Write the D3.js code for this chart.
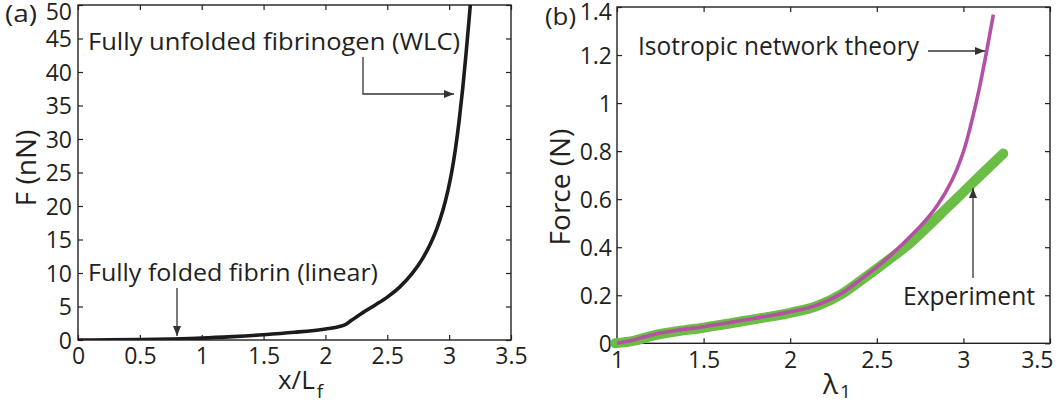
<!DOCTYPE html>
<html>
<head>
<meta charset="utf-8">
<script src="https://cdn.jsdelivr.net/npm/d3@7"></script>
<style>
  body { margin: 0; background: #fff; }
  svg text { font-family: "Open Sans", "Liberation Sans", sans-serif; fill: #231f20; }
</style>
</head>
<body>
<div id="chart"></div>
<script>
// panel (a) : single fibre force-extension
var xTicksA = [0, 0.5, 1, 1.5, 2, 2.5, 3, 3.5];
var yTicksA = [0, 5, 10, 15, 20, 25, 30, 35, 40, 45, 50];
var extA = [0, 0.25, 0.5, 0.75, 1.0, 1.25, 1.5, 1.75, 2.0, 2.1, 2.17, 2.2, 2.25, 2.3, 2.4, 2.5, 2.6, 2.7, 2.78, 2.85, 2.9, 2.95, 2.99, 3.02, 3.05, 3.08, 3.11, 3.135, 3.16, 3.172];
var forceA = [0, 0.02, 0.06, 0.15, 0.28, 0.5, 0.78, 1.15, 1.65, 1.95, 2.4, 2.8, 3.45, 4.05, 5.2, 6.4, 7.9, 9.9, 12.0, 14.4, 16.6, 19.4, 22.3, 25.0, 28.4, 32.6, 37.6, 42.4, 47.6, 50.2];

// panel (b) : network, theory vs experiment
var xTicksB = [1, 1.5, 2, 2.5, 3, 3.5];
var yTicksB = [0, 0.2, 0.4, 0.6, 0.8, 1, 1.2, 1.4];
var lamTheory = [1.0, 1.1, 1.2, 1.35, 1.5, 1.75, 2.0, 2.15, 2.3, 2.4, 2.5, 2.6, 2.7, 2.75, 2.8, 2.85, 2.9, 2.96, 3.01, 3.05, 3.09, 3.13, 3.173];
var forceTheory = [0, 0.015, 0.035, 0.054, 0.069, 0.099, 0.131, 0.158, 0.21, 0.262, 0.317, 0.38, 0.45, 0.486, 0.527, 0.575, 0.632, 0.72, 0.82, 0.93, 1.055, 1.2, 1.368];
var lamExp = [0.99, 1.1, 1.2, 1.35, 1.5, 1.75, 2.0, 2.15, 2.3, 2.4, 2.5, 2.6, 2.7, 2.8, 2.9, 3.0, 3.1, 3.23];
var forceExp = [0, 0.011, 0.031, 0.05, 0.065, 0.095, 0.127, 0.154, 0.206, 0.257, 0.31, 0.365, 0.422, 0.49, 0.56, 0.63, 0.7, 0.79];

var W = 1062, H = 406;
var ink = "#231f20";

var svg = d3.select("#chart").append("svg")
  .attr("width", W)
  .attr("height", H);

// draws the boxed matlab-style axes, returns the scales
function panel(box, xDom, yDom, xt, yt, id, xLabY, yLabX) {
  var x = d3.scaleLinear().domain(xDom).range([box.l, box.r]);
  var y = d3.scaleLinear().domain(yDom).range([box.b, box.t]);

  var g = svg.append("g");

  var bx = g.append("g")
    .attr("transform", "translate(0," + box.b + ")")
    .call(d3.axisBottom(x).tickValues(xt).tickSize(-5).tickPadding(0).tickFormat(d3.format("")))
    .call(function(a) {
      a.select(".domain").remove();
      a.selectAll("text").attr("dy", null).attr("y", xLabY - box.b);
    });
  g.append("g")
    .attr("transform", "translate(0," + box.t + ")")
    .call(d3.axisTop(x).tickValues(xt).tickSize(-5).tickFormat(""))
    .call(function(a) { a.select(".domain").remove(); });
  var ly = g.append("g")
    .attr("transform", "translate(" + box.l + ",0)")
    .call(d3.axisLeft(y).tickValues(yt).tickSize(-5).tickPadding(0).tickFormat(d3.format("")))
    .call(function(a) {
      a.select(".domain").remove();
      a.selectAll("text").attr("x", yLabX - box.l).attr("dy", "0.36em");
    });
  g.append("g")
    .attr("transform", "translate(" + box.r + ",0)")
    .call(d3.axisRight(y).tickValues(yt).tickSize(-5).tickFormat(""))
    .call(function(a) { a.select(".domain").remove(); });

  g.selectAll(".tick line").attr("stroke", ink).attr("stroke-width", 1.2);
  g.selectAll(".tick text")
    .attr("font-family", '"Open Sans", sans-serif')
    .attr("font-size", 23)
    .attr("fill", ink);

  // keep the top label and the last x label inside the picture
  ly.selectAll(".tick").filter(d => d === yDom[1]).select("text").attr("y", 11 - box.t);
  bx.selectAll(".tick").filter(d => d === xDom[1]).select("text").each(function() {
    var bb = this.getBBox();
    var over = x(xDom[1]) + bb.width / 2 - (W - 9);
    if (over > 0) d3.select(this).attr("x", -over);
  });

  g.append("rect")
    .attr("x", box.l).attr("y", box.t)
    .attr("width", box.r - box.l).attr("height", box.b - box.t)
    .attr("fill", "none")
    .attr("stroke", ink)
    .attr("stroke-width", 1.4);

  svg.append("clipPath").attr("id", id)
    .append("rect")
    .attr("x", box.l).attr("y", box.t)
    .attr("width", box.r - box.l).attr("height", box.b - box.t);

  return { x: x, y: y };
}

// arrow heads
svg.append("defs").append("marker")
  .attr("id", "head")
  .attr("viewBox", "0 0 10 8")
  .attr("refX", 10).attr("refY", 4)
  .attr("markerWidth", 10).attr("markerHeight", 8)
  .attr("markerUnits", "userSpaceOnUse")
  .attr("orient", "auto")
  .append("path")
  .attr("d", "M0,0 L10,4 L0,8 Z")
  .attr("fill", "#333");

function arrow(pts) {
  svg.append("path")
    .attr("d", d3.line()(pts))
    .attr("fill", "none")
    .attr("stroke", "#333")
    .attr("stroke-width", 1.3)
    .attr("marker-end", "url(#head)");
}

function label(txt, x, y, size, len) {
  var t = svg.append("text")
    .attr("x", x).attr("y", y)
    .attr("font-size", size)
    .text(txt);
  if (len) t.attr("textLength", len).attr("lengthAdjust", "spacingAndGlyphs");
  return t;
}

/* ---------- (a) ---------- */
var A = panel({ l: 78, r: 511, t: 5, b: 340 }, [0, 3.5], [0, 50], xTicksA, yTicksA, "clipA", 364, 72);

svg.append("path")
  .datum(d3.zip(extA, forceA))
  .attr("clip-path", "url(#clipA)")
  .attr("d", d3.line().x(d => A.x(d[0])).y(d => A.y(d[1])).curve(d3.curveMonotoneX))
  .attr("fill", "none")
  .attr("stroke", "#1d1a1b")
  .attr("stroke-width", 3.6);

label("(a)", 5, 22, 24, 32);
label("Fully unfolded fibrinogen (WLC)", 88, 50, 24, 372);
label("Fully folded fibrin (linear)", 88, 281, 24, 290);
arrow([[363, 57], [363, 94], [454, 94]]);
arrow([[177, 288], [177, 336]]);

var xa = label("x/L", 278, 389, 26);
xa.append("tspan").attr("dy", 9).attr("dx", 2).attr("font-size", 19).text("f");
label("F (nN)", 0, 0, 28)
  .attr("text-anchor", "middle")
  .attr("transform", "translate(36,168) rotate(-90)");

/* ---------- (b) ---------- */
var B = panel({ l: 617, r: 1050, t: 7, b: 343.3 }, [1, 3.5], [0, 1.4], xTicksB, yTicksB, "clipB", 368, 612);

// experiment drawn as a fat green trace, theory on top
svg.append("path")
  .datum(d3.zip(lamExp, forceExp))
  .attr("d", d3.line().x(d => B.x(d[0])).y(d => B.y(d[1])).curve(d3.curveMonotoneX))
  .attr("fill", "none")
  .attr("stroke", "#6abd45")
  .attr("stroke-width", 10)
  .attr("stroke-linecap", "round")
  .attr("stroke-linejoin", "round");

svg.append("path")
  .datum(d3.zip(lamTheory, forceTheory))
  .attr("d", d3.line().x(d => B.x(d[0])).y(d => B.y(d[1])).curve(d3.curveMonotoneX))
  .attr("fill", "none")
  .attr("stroke", "#b551a4")
  .attr("stroke-width", 3.6);

label("(b)", 545, 25, 24, 31);
label("Isotropic network theory", 638, 55, 25, 281);
label("Experiment", 903, 305, 25, 132);
arrow([[928, 51], [985, 51]]);
arrow([[973, 278], [973, 188]]);

var lb = label("λ", 823, 394, 28);
lb.append("tspan").attr("dy", 4).attr("dx", 2).attr("font-size", 19).text("1");
label("Force (N)", 0, 0, 28)
  .attr("text-anchor", "middle")
  .attr("transform", "translate(570,187) rotate(-90)");
</script>
</body>
</html>
